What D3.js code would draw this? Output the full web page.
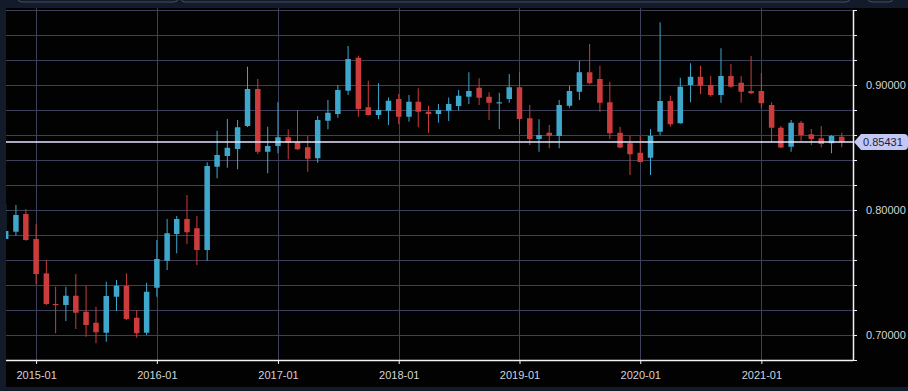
<!DOCTYPE html>
<html lang="en">
<head>
  <meta charset="UTF-8">
  <title>Monthly candles</title>
  <script src="https://d3js.org/d3.v7.min.js"></script>
  <style>
    body {
      margin: 0;
      background: #111522;
      font-family: "Liberation Sans", Arial, sans-serif;
    }
    svg { display: block; }
  </style>
</head>
<body>
  <svg id="chart" width="908" height="391"></svg>
  <script>
    // monthly candles, 2014-10 .. 2021-09
    const months = [
      "2014-10", "2014-11", "2014-12",
      "2015-01", "2015-02", "2015-03", "2015-04", "2015-05", "2015-06", "2015-07", "2015-08", "2015-09", "2015-10", "2015-11", "2015-12",
      "2016-01", "2016-02", "2016-03", "2016-04", "2016-05", "2016-06", "2016-07", "2016-08", "2016-09", "2016-10", "2016-11", "2016-12",
      "2017-01", "2017-02", "2017-03", "2017-04", "2017-05", "2017-06", "2017-07", "2017-08", "2017-09", "2017-10", "2017-11", "2017-12",
      "2018-01", "2018-02", "2018-03", "2018-04", "2018-05", "2018-06", "2018-07", "2018-08", "2018-09", "2018-10", "2018-11", "2018-12",
      "2019-01", "2019-02", "2019-03", "2019-04", "2019-05", "2019-06", "2019-07", "2019-08", "2019-09", "2019-10", "2019-11", "2019-12",
      "2020-01", "2020-02", "2020-03", "2020-04", "2020-05", "2020-06", "2020-07", "2020-08", "2020-09", "2020-10", "2020-11", "2020-12",
      "2021-01", "2021-02", "2021-03", "2021-04", "2021-05", "2021-06", "2021-07", "2021-08", "2021-09"
    ];
    const open = [
      0.7768, 0.7826, 0.7968,
      0.7768, 0.7493, 0.7248, 0.7240, 0.7314, 0.7186, 0.7098, 0.7018, 0.7306, 0.7394, 0.7138, 0.7018,
      0.7378, 0.7594, 0.7808, 0.7928, 0.7854, 0.7680, 0.8346, 0.8432, 0.8488, 0.8672, 0.8968, 0.8466,
      0.8512, 0.8582, 0.8546, 0.8502, 0.8414, 0.8714, 0.8768, 0.8954, 0.9218, 0.8822, 0.8760, 0.8794,
      0.8888, 0.8746, 0.8866, 0.8786, 0.8768, 0.8794, 0.8832, 0.8906, 0.8978, 0.8906, 0.8858, 0.8888,
      0.8982, 0.8734, 0.8568, 0.8618, 0.8592, 0.8834, 0.8946, 0.9102, 0.9048, 0.8862, 0.8618, 0.8534,
      0.8458, 0.8418, 0.8626, 0.8872, 0.8694, 0.9000, 0.9066, 0.9000, 0.8920, 0.9072, 0.9018, 0.8952,
      0.8952, 0.8840, 0.8658, 0.8506, 0.8698, 0.8606, 0.8574, 0.8534, 0.8586
    ];
    const high = [
      0.8048, 0.8040, 0.8008,
      0.7886, 0.7600, 0.7386, 0.7386, 0.7488, 0.7394, 0.7226, 0.7426, 0.7440, 0.7494, 0.7200, 0.7418,
      0.7760, 0.7928, 0.7952, 0.8120, 0.7952, 0.8382, 0.8634, 0.8728, 0.8720, 0.9146, 0.9048, 0.8666,
      0.8862, 0.8646, 0.8800, 0.8592, 0.8752, 0.8880, 0.9000, 0.9312, 0.9234, 0.9034, 0.9014, 0.8900,
      0.8928, 0.8920, 0.8974, 0.8834, 0.8848, 0.8900, 0.8960, 0.9102, 0.9054, 0.8942, 0.8938, 0.9088,
      0.9102, 0.8840, 0.8726, 0.8680, 0.8880, 0.8994, 0.9194, 0.9328, 0.9154, 0.9026, 0.8666, 0.8594,
      0.8592, 0.8648, 0.9501, 0.8914, 0.9058, 0.9174, 0.9154, 0.9072, 0.9294, 0.9168, 0.9072, 0.9232,
      0.9094, 0.8862, 0.8672, 0.8720, 0.8712, 0.8648, 0.8672, 0.8600, 0.8618
    ];
    const low = [
      0.7768, 0.7794, 0.7754,
      0.7406, 0.7240, 0.7014, 0.7112, 0.7048, 0.6986, 0.6934, 0.6946, 0.7192, 0.7120, 0.6978, 0.7000,
      0.7306, 0.7520, 0.7654, 0.7728, 0.7560, 0.7594, 0.8254, 0.8338, 0.8326, 0.8664, 0.8448, 0.8294,
      0.8454, 0.8406, 0.8480, 0.8306, 0.8378, 0.8646, 0.8738, 0.8920, 0.8746, 0.8756, 0.8726, 0.8680,
      0.8686, 0.8706, 0.8662, 0.8618, 0.8698, 0.8712, 0.8794, 0.8848, 0.8840, 0.8720, 0.8648, 0.8858,
      0.8608, 0.8520, 0.8466, 0.8494, 0.8494, 0.8818, 0.8880, 0.9006, 0.8786, 0.8568, 0.8494, 0.8280,
      0.8382, 0.8280, 0.8600, 0.8666, 0.8690, 0.8862, 0.8928, 0.8906, 0.8858, 0.8978, 0.8858, 0.8928,
      0.8814, 0.8542, 0.8494, 0.8466, 0.8554, 0.8520, 0.8502, 0.8454, 0.8502
    ];
    const close = [
      0.7832, 0.7960, 0.7760,
      0.7488, 0.7248, 0.7245, 0.7314, 0.7178, 0.7080, 0.7022, 0.7312, 0.7394, 0.7128, 0.7014, 0.7346,
      0.7608, 0.7814, 0.7928, 0.7822, 0.7680, 0.8352, 0.8440, 0.8498, 0.8662, 0.8968, 0.8466, 0.8512,
      0.8582, 0.8538, 0.8486, 0.8410, 0.8720, 0.8778, 0.8960, 0.9208, 0.8808, 0.8760, 0.8800, 0.8874,
      0.8746, 0.8866, 0.8786, 0.8768, 0.8800, 0.8848, 0.8914, 0.8952, 0.8898, 0.8858, 0.8862, 0.8982,
      0.8728, 0.8568, 0.8600, 0.8594, 0.8840, 0.8952, 0.9102, 0.9014, 0.8858, 0.8614, 0.8500, 0.8446,
      0.8384, 0.8592, 0.8872, 0.8686, 0.8986, 0.9066, 0.8994, 0.8920, 0.9072, 0.8986, 0.8946, 0.8934,
      0.8854, 0.8658, 0.8500, 0.8698, 0.8600, 0.8568, 0.8528, 0.8592, 0.85431
    ];
    const lastPrice = 0.85431;
    const yLabelTicks = [0.70, 0.80, 0.90];
    const yTicks = [0.68, 0.70, 0.72, 0.74, 0.76, 0.78, 0.80, 0.82, 0.84, 0.86, 0.88, 0.90, 0.92, 0.94, 0.96];
    const xTicks = ["2015-01", "2016-01", "2017-01", "2018-01", "2019-01", "2020-01", "2021-01"];

    const parseMonth = d3.utcParse("%Y-%m");
    const data = months.map((m, i) => ({
      date: parseMonth(m), open: open[i], high: high[i], low: low[i], close: close[i]
    }));

    const upColor = "#3fa6cc";
    const downColor = "#cc3c3d";
    const gridColor = "#3c4058";

    const svg = d3.select("#chart");
    const plotLeft = 6, plotRight = 853, plotTop = 10, plotBottom = 360;

    const x = d3.scaleUtc()
      .domain([new Date(Date.UTC(2014, 9, 2)), new Date(Date.UTC(2021, 9, 5))])
      .range([plotLeft, plotRight]);
    const y = d3.scaleLinear()
      .domain([0.68, 0.96])
      .range([plotBottom, plotTop]);

    // frame: top band, plot background
    svg.append("rect").attr("x", 0).attr("y", 0).attr("width", 908).attr("height", 391).attr("fill", "#131a2a");
    svg.append("rect").attr("x", plotLeft).attr("y", 8).attr("width", 908 - plotLeft).attr("height", 379).attr("fill", "#020203");
    [[18, 178], [181, 850], [868, 893]].forEach(([a, b]) => {
      svg.append("rect").attr("x", a).attr("y", -12).attr("width", b - a).attr("height", 14)
        .attr("rx", 4).attr("fill", "none").attr("stroke", "#474d64").attr("stroke-width", 1);
    });

    // grid
    const grid = svg.append("g");
    grid.selectAll("line.h").data(yTicks.slice(1)).join("line")
      .attr("x1", plotLeft).attr("x2", plotRight)
      .attr("y1", d => Math.round(y(d)) + 0.5).attr("y2", d => Math.round(y(d)) + 0.5)
      .attr("stroke", gridColor).attr("stroke-width", 1);
    grid.selectAll("line.v").data(xTicks).join("line")
      .attr("x1", d => Math.round(x(parseMonth(d))) + 0.5).attr("x2", d => Math.round(x(parseMonth(d))) + 0.5)
      .attr("y1", 8).attr("y2", plotBottom)
      .attr("stroke", gridColor).attr("stroke-width", 1);

    // candles
    svg.append("clipPath").attr("id", "plot-clip")
      .append("rect").attr("x", plotLeft).attr("y", 8).attr("width", plotRight - plotLeft).attr("height", plotBottom - 8);
    const candles = svg.append("g").attr("clip-path", "url(#plot-clip)");
    const bodyW = 5.5;
    const c = candles.selectAll("g").data(data).join("g")
      .attr("fill", d => d.close >= d.open ? upColor : downColor)
      .attr("stroke", d => d.close >= d.open ? upColor : downColor);
    c.append("line")
      .attr("x1", d => x(d.date)).attr("x2", d => x(d.date))
      .attr("y1", d => y(d.high)).attr("y2", d => y(d.low))
      .attr("stroke-width", 1);
    c.append("rect")
      .attr("x", d => x(d.date) - bodyW / 2)
      .attr("width", bodyW)
      .attr("y", d => y(Math.max(d.open, d.close)))
      .attr("height", d => Math.max(1.2, Math.abs(y(d.open) - y(d.close))))
      .attr("stroke", "none");

    // last price line
    svg.append("line")
      .attr("x1", plotLeft).attr("x2", plotRight)
      .attr("y1", y(lastPrice)).attr("y2", y(lastPrice))
      .attr("stroke", "#e4e6ff").attr("stroke-width", 1.5);

    // axes
    const xAxis = svg.append("g")
      .attr("transform", `translate(0,${plotBottom})`)
      .call(d3.axisBottom(x).tickValues(xTicks.map(parseMonth)).tickFormat(d3.utcFormat("%Y-%m")).tickSize(4).tickSizeOuter(0));
    xAxis.select(".domain").attr("stroke", "#f2f2f2").attr("stroke-width", 1.5).attr("d", `M${plotLeft},0.5H${plotRight}`);
    xAxis.selectAll(".tick line").attr("stroke", "#f2f2f2");
    xAxis.selectAll(".tick text").attr("fill", "#d4d4d8").attr("font-size", 11)
      .attr("font-family", "'Liberation Sans', Arial, sans-serif").attr("dy", "1.05em");

    const yAxis = svg.append("g")
      .attr("transform", `translate(${plotRight},0)`)
      .call(d3.axisRight(y).tickValues(yTicks).tickSize(4).tickSizeOuter(0)
        .tickFormat(d => yLabelTicks.some(v => Math.abs(v - d) < 1e-9) ? d3.format(".5f")(d) : ""));
    yAxis.select(".domain").attr("stroke", "#f2f2f2").attr("stroke-width", 1.5);
    yAxis.selectAll(".tick line").attr("stroke", "#f2f2f2");
    yAxis.selectAll(".tick text").attr("fill", "#d4d4d8").attr("font-size", 11).attr("x", 13)
      .attr("font-family", "'Liberation Sans', Arial, sans-serif");

    // last price tag
    const py = y(lastPrice);
    svg.append("path")
      .attr("d", `M${plotRight + 1},${py} L${plotRight + 8},${py - 8} H${904} Q${908},${py - 8} ${908},${py - 4} V${py + 4} Q${908},${py + 8} ${904},${py + 8} H${plotRight + 8} Z`)
      .attr("fill", "#c3c7f3");
    svg.append("text")
      .attr("x", plotRight + 10).attr("y", py + 4)
      .attr("font-size", 11).attr("fill", "#1c2140")
      .text(d3.format(".5f")(lastPrice));
  </script>
</body>
</html>
